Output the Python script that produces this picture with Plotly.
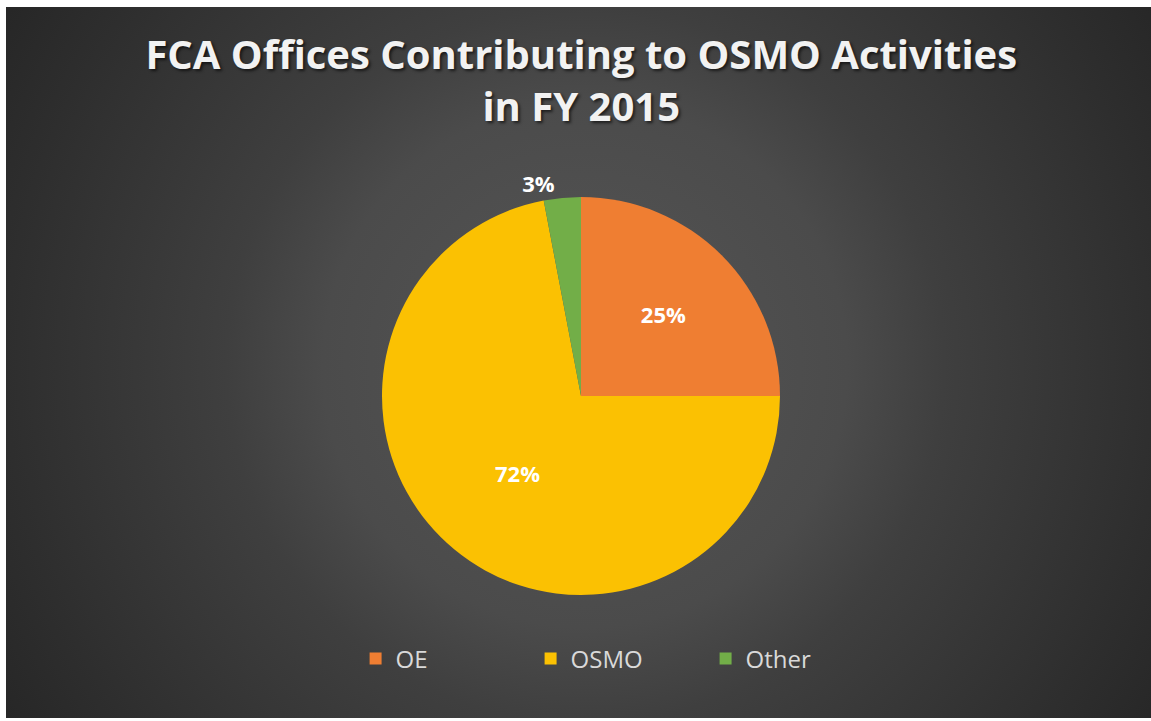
import base64
import plotly.graph_objects as go

categories = ["OE", "OSMO", "Other"]
values = [25, 72, 3]
colors = ["#EF7E32", "#FBC102", "#72AE48"]
title_lines = ["FCA Offices Contributing to OSMO Activities", "in FY 2015"]

W, H = 1151, 721

svg = f'''<svg xmlns="http://www.w3.org/2000/svg" width="{W}" height="{H}" viewBox="0 0 {W} {H}">
<defs><radialGradient id="g" gradientUnits="userSpaceOnUse" cx="585" cy="365" r="690">
<stop offset="0" stop-color="#565656"/>
<stop offset="0.38" stop-color="#4b4b4b"/>
<stop offset="0.52" stop-color="#3f3f3f"/>
<stop offset="0.84" stop-color="#2e2e2e"/>
<stop offset="1" stop-color="#262626"/>
</radialGradient></defs>
<rect x="0" y="0" width="{W}" height="{H}" fill="#ffffff"/>
<rect x="6" y="7" width="{W-6}" height="{H-10}" fill="url(#g)"/>
</svg>'''
src = "data:image/svg+xml;base64," + base64.b64encode(svg.encode()).decode()

cx, cy, r = 581, 396, 199
dom_x = [(cx - r) / W, (cx + r) / W]
dom_y = [1 - (cy + r) / H, 1 - (cy - r) / H]

fig = go.Figure(go.Pie(
    labels=categories,
    values=values,
    sort=False,
    direction="clockwise",
    rotation=0,
    marker=dict(colors=colors, line=dict(width=0)),
    texttemplate="%{percent:.0%}",
    textposition=["inside", "inside", "outside"],
    insidetextorientation="horizontal",
    textfont=dict(family="Open Sans", size=22, color="#FFFFFF", weight="bold"),
    outsidetextfont=dict(family="Open Sans", size=22, color="#FFFFFF", weight="bold"),
    domain=dict(x=dom_x, y=dom_y),
    hoverinfo="label+percent",
))

fig.update_layout(
    width=W, height=H,
    margin=dict(l=0, r=0, t=0, b=0),
    paper_bgcolor="#ffffff",
    plot_bgcolor="rgba(0,0,0,0)",
    title=dict(
        text="<br>".join(title_lines),
        x=0.505, xanchor="center",
        y=1 - 69 / H, yanchor="top",
        font=dict(family="Open Sans", size=40, color="#F2F2F2", weight="bold",
                  shadow="2px 2px 3px rgba(0,0,0,0.6)"),
    ),
    legend=dict(
        orientation="h",
        x=0.537, xanchor="center",
        y=1 - 659 / H, yanchor="middle",
        font=dict(family="Open Sans", size=24, color="#D9D9D9"),
        bgcolor="rgba(0,0,0,0)",
        entrywidth=130,
    ),
    images=[dict(source=src, xref="paper", yref="paper", x=0, y=1,
                 sizex=1, sizey=1, xanchor="left", yanchor="top",
                 sizing="stretch", layer="below")],
)

fig.write_html("out.html",
               config={"displayModeBar": False},
               post_script="document.body.style.margin='0';document.body.style.overflow='hidden';")
